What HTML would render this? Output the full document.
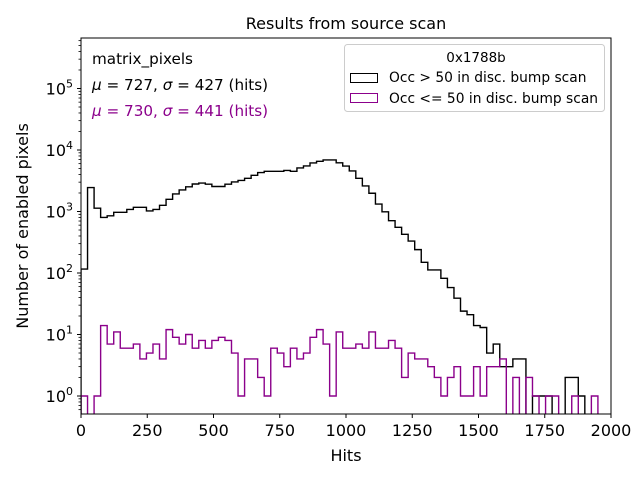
<!DOCTYPE html>
<html><head><meta charset="utf-8"><style>
body{margin:0;background:#fff;}
svg{font-family:"DejaVu Sans","Liberation Sans",sans-serif;}
</style></head><body>
<svg id="chart" width="640" height="480" viewBox="0 0 640 480" xmlns="http://www.w3.org/2000/svg">
<rect width="640" height="480" fill="#fff"/>
<defs><clipPath id="clip"><rect x="81" y="38" width="530" height="376"/></clipPath></defs>
<text x="346" y="29" text-anchor="middle" font-size="16">Results from source scan</text>
<g id="series" clip-path="url(#clip)"></g>
<g id="axes"></g>
<text x="346" y="461" text-anchor="middle" font-size="16">Hits</text>
<text transform="translate(28,226) rotate(-90)" text-anchor="middle" font-size="16">Number of enabled pixels</text>
<g font-size="15.2">
<text x="92" y="64">matrix_pixels</text>
<text x="92" y="90"><tspan font-style="italic">μ</tspan> = 727, <tspan font-style="italic">σ</tspan> = 427 (hits)</text>
<text x="92" y="116" fill="#8b008b"><tspan font-style="italic">μ</tspan> = 730, <tspan font-style="italic">σ</tspan> = 441 (hits)</text>
</g>
<g>
<rect x="344.5" y="44.5" width="260" height="67" rx="3" fill="#fff" fill-opacity="0.8" stroke="#ccc"/>
<text x="476" y="62" text-anchor="middle" font-size="13.5">0x1788b</text>
<rect x="350.5" y="73.5" width="27" height="9" fill="none" stroke="#000"/>
<text x="389" y="82" font-size="13.8">Occ &gt; 50 in disc. bump scan</text>
<rect x="350.5" y="93.5" width="27" height="9" fill="none" stroke="#8b008b"/>
<text x="389" y="103" font-size="13.8">Occ &lt;= 50 in disc. bump scan</text>
</g>
</svg>
<script>
const binCount = 81;
const xMax = 2000;
const blackCounts = [116,2450,1130,800,850,970,970,1080,1170,1170,1020,1080,1260,1580,1930,2240,2520,2800,2900,2780,2550,2550,2780,3030,3200,3470,3880,4300,4500,4500,4500,4650,4500,5100,5500,6150,6550,6900,6900,6200,5490,4560,3470,2600,1980,1320,990,710,553,426,331,240,149,112,112,82,58,39,24,21,14,13,5,7,3,3,4,4,0,1,1,1,0,0,2,2,1,0,0,0,0];
const magentaCounts = [1,0,1,14,7,11,6,6,7,4,5,7,4,12,9,7,10,6,8,6,8,9,8,5,1,4,4,2,1,6,5,3,6,4,5,9,12,7,1,11,6,6,7,6,11,6,6,8,6,2,5,4,4,3,2,1,2,3,1,1,3,1,3,3,4,0,2,0,2,1,0,1,1,0,0,1,0,0,1,0,0];
const xTicks = [0,250,500,750,1000,1250,1500,1750,2000];
const yDecades = [0,1,2,3,4,5];

const NS="http://www.w3.org/2000/svg";
const X0=81,X1=611,YB=414,YT=38,Y0=396,DEC=61.5;
function xs(v){return X0+(v/xMax)*(X1-X0);}
function ys(c){return c>0?Y0-Math.log10(c)*DEC:YB+20;}
function mk(tag,attrs,parent){const e=document.createElementNS(NS,tag);for(const k in attrs)e.setAttribute(k,attrs[k]);parent.appendChild(e);return e;}
const series=document.getElementById('series'),axes=document.getElementById('axes');
function stepPath(counts){
  const w=xMax/binCount;let d='M'+xs(0)+','+(YB+20);
  for(let i=0;i<counts.length;i++){const y=ys(counts[i]);d+=' L'+xs(i*w)+','+y+' L'+xs((i+1)*w)+','+y;}
  d+=' L'+xs(counts.length*w)+','+(YB+20);return d;
}
const pb=mk('path',{d:stepPath(blackCounts),fill:'none',stroke:'#000','stroke-width':1.4},series);


const pm=mk('path',{d:stepPath(magentaCounts),fill:'none',stroke:'#8b008b','stroke-width':1.4},series);


const frame=mk('rect',{x:X0,y:YT,width:X1-X0,height:YB-YT,fill:'none',stroke:'#000','stroke-width':1},axes);


xTicks.forEach(t=>{
  const x=xs(t);
  mk('line',{x1:x,x2:x,y1:YB,y2:YB+4,stroke:'#000'},axes);
  const tx=mk('text',{x:x,y:YB+22,'text-anchor':'middle','font-size':16},axes);
  tx.textContent=t;
  
  
});
yDecades.forEach(d=>{
  const y=Y0-d*DEC;
  mk('line',{x1:X0-4,x2:X0,y1:y,y2:y,stroke:'#000'},axes);
  const tx=mk('text',{x:X0-8,y:y+6,'text-anchor':'end','font-size':16},axes);
  tx.innerHTML='10<tspan dy="-7" font-size="11">'+d+'</tspan>';
  
  
});
for(let d=-1;d<=5;d++){for(let m=2;m<=9;m++){const y=Y0-(d+Math.log10(m))*DEC;if(y<YT||y>YB)continue;mk('line',{x1:X0-2.5,x2:X0,y1:y,y2:y,stroke:'#000','stroke-width':0.8},axes);}}
</script>
</body></html>
